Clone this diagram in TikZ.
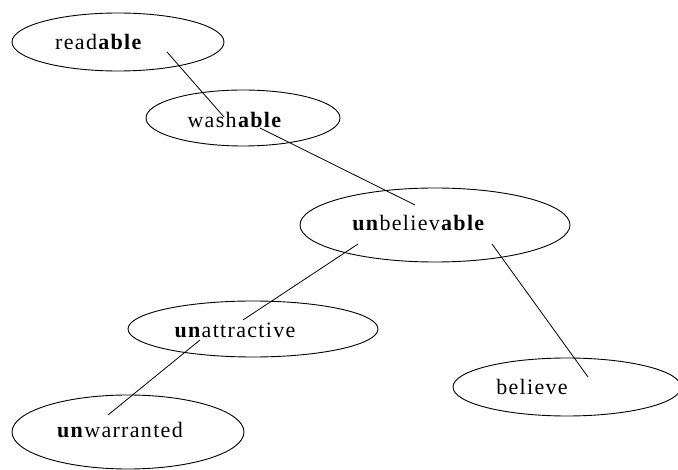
\documentclass[tikz,border=0pt]{standalone}
\usepackage{fontspec}
\setmainfont[LetterSpace=6]{Liberation Serif}
\usetikzlibrary{shapes.geometric}
\begin{document}
\begin{tikzpicture}[x=1pt,y=-1pt,
  oval/.style={draw,ellipse,inner sep=0pt,line width=0.9pt},
  word/.style={anchor=base,inner sep=0pt,font=\fontsize{22}{24}\selectfont},
  link/.style={line width=0.8pt}]
\useasboundingbox[fill=white] (0,0) rectangle (678,470);
\node[oval,minimum width=212pt,minimum height=58pt] (e1) at (118,42) {};
\node[oval,minimum width=194pt,minimum height=56pt] (e2) at (243,118) {};
\node[oval,minimum width=270pt,minimum height=74pt] (e3) at (435,225) {};
\node[oval,minimum width=250pt,minimum height=56pt] (e4) at (253,329) {};
\node[oval,minimum width=228pt,minimum height=58pt] (e5) at (567,387) {};
\node[oval,minimum width=232pt,minimum height=74pt] (e6) at (128,432) {};
\node[word] (t1) at (99,50) {read\textbf{able}};
\node[word] (t2) at (235,128) {wash\textbf{able}};
\node[word] (t3) at (419,231) {\textbf{un}believ\textbf{able}};
\node[word] (t4) at (235,338) {\textbf{un}attractive};
\node[word] (t5) at (532,395) {believe};
\node[word] (t6) at (120,438) {\textbf{un}warranted};
\coordinate (a1) at (167,52);
\coordinate (a2) at (224,117);
\coordinate (b1) at (260,128);
\coordinate (b2) at (415,205);
\coordinate (c1) at (358,244);
\coordinate (c2) at (243,320);
\coordinate (d1) at (492,244);
\coordinate (d2) at (588,377);
\coordinate (f1) at (200,340);
\coordinate (f2) at (108,415);
\draw[link] (a1) -- (a2);
\draw[link] (b1) -- (b2);
\draw[link] (c1) -- (c2);
\draw[link] (d1) -- (d2);
\draw[link] (f1) -- (f2);
\end{tikzpicture}
\end{document}
